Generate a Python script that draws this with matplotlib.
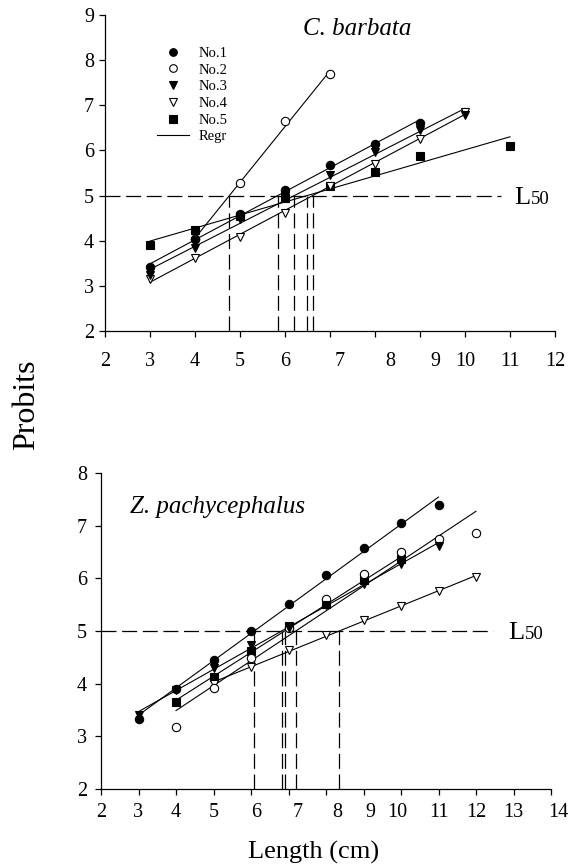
import numpy as np
import matplotlib
matplotlib.use('Agg')
import matplotlib.pyplot as plt
from matplotlib.lines import Line2D
from matplotlib.transforms import ScaledTranslation

plt.rcParams['font.family'] = 'Liberation Serif'
plt.rcParams['axes.linewidth'] = 0.9

series = ['No.1', 'No.2', 'No.3', 'No.4', 'No.5']

# C. barbata: length classes (cm) and probits
cb_len = [[3, 4, 5, 6, 7, 8, 9],
          [4, 5, 6, 7],
          [3, 4, 5, 6, 7, 8, 9, 10],
          [3, 4, 5, 6, 7, 8, 9, 10],
          [3, 4, 5, 6, 7, 8, 9, 11]]
cb_prob = [[3.41, 4.03, 4.60, 5.13, 5.67, 6.15, 6.61],
           [4.03, 5.27, 6.65, 7.69],
           [3.24, 3.84, 4.48, 4.98, 5.45, 5.97, 6.45, 6.78],
           [3.15, 3.61, 4.09, 4.62, 5.22, 5.71, 6.26, 6.85],
           [3.90, 4.23, 4.55, 4.94, 5.21, 5.52, 5.87, 6.09]]

# Z. pachycephalus
zp_len = [[3, 4, 5, 6, 7, 8, 9, 10, 11],
          [4, 5, 6, 7, 8, 9, 10, 11, 12],
          [3, 4, 5, 6, 7, 8, 9, 10, 11],
          [5, 6, 7, 8, 9, 10, 11, 12],
          [4, 5, 6, 7, 8, 9, 10]]
zp_prob = [[3.32, 3.89, 4.45, 5.00, 5.52, 6.06, 6.57, 7.05, 7.39],
           [3.17, 3.91, 4.48, 5.06, 5.61, 6.08, 6.50, 6.75, 6.87],
           [3.40, 3.88, 4.29, 4.73, 5.06, 5.50, 5.90, 6.28, 6.62],
           [3.99, 4.32, 4.64, 4.92, 5.21, 5.47, 5.76, 6.03],
           [3.65, 4.13, 4.62, 5.09, 5.51, 5.97, 6.36]]

markers = ['o', 'o', 'v', 'v', 's']
faces = ['k', 'w', 'k', 'w', 'k']
zorders = [6, 4, 5, 3, 2]
dash = (0, (12, 4.5))

fig = plt.figure(figsize=(5.71, 8.66), dpi=100)
ax1 = fig.add_axes([105/571, 1 - 331/866, 450/571, 316/866])
ax2 = fig.add_axes([101/571, 1 - 789/866, 450/571, 316/866])


def panel(ax, lens, probs, l50_end):
    for i in range(5):
        x = np.array(lens[i], float)
        y = np.array(probs[i], float)
        b, a = np.polyfit(x, y, 1)
        xs = np.array([x.min(), x.max()])
        ax.plot(xs, a + b*xs, color='k', lw=0.8, zorder=1)
        ax.plot(x, y, ls='none', marker=markers[i], ms=6, mfc=faces[i],
                mec='k', mew=0.8, zorder=zorders[i])
        l50 = (5 - a)/b
        ax.plot([l50, l50], [2, 5], color='k', lw=0.9, ls=dash, zorder=1)
    ax.plot([2, l50_end], [5, 5], color='k', lw=0.9, ls=dash, zorder=1)
    ax.spines['top'].set_visible(False)
    ax.spines['right'].set_visible(False)
    ax.tick_params(direction='out', length=4, width=0.9, labelsize=14.5)


panel(ax1, cb_len, cb_prob, 10.8)
panel(ax2, zp_len, zp_prob, 12.45)

ax1.set_xlim(2, 12)
ax1.set_ylim(2, 9)
ax1.set_xticks(range(2, 13))
ax1.set_yticks(range(2, 10))
ax1.tick_params(axis='x', pad=11)
ax1.tick_params(axis='y', pad=4)

ax2.set_xlim(2, 14)
ax2.set_ylim(2, 8)
ax2.set_xticks(range(2, 15))
ax2.set_yticks(range(2, 9))
ax2.tick_params(axis='x', pad=6)
ax2.tick_params(axis='y', pad=6)

# the scanned tick labels sit slightly off their ticks
shifts1 = {7: 7, 8: 11, 9: 11}
shifts2 = {6: 4, 7: 6.5, 8: 8, 9: 5, 10: -3, 14: 5}
for ax, shifts in ((ax1, shifts1), (ax2, shifts2)):
    for lab, t in zip(ax.get_xticklabels(), ax.get_xticks()):
        dx = shifts.get(int(t), 0)
        if dx:
            lab.set_transform(lab.get_transform() +
                              ScaledTranslation(dx/72, 0, fig.dpi_scale_trans))

ax1.text(6.4, 8.68, 'C. barbata', fontsize=18, style='italic', va='center')
ax2.text(2.77, 7.35, 'Z. pachycephalus', fontsize=18, style='italic', va='center')

for ax, x0 in ((ax1, 11.09), (ax2, 12.85)):
    ax.annotate('L', (x0, 5), xytext=(0, -6), textcoords='offset points',
                fontsize=19, va='baseline', annotation_clip=False)
    ax.annotate('50', (x0, 5), xytext=(12, -6), textcoords='offset points',
                fontsize=13.5, va='baseline', annotation_clip=False)

handles = [Line2D([], [], ls='none', marker=markers[i], ms=5.5, mfc=faces[i],
                  mec='k', mew=0.8) for i in range(5)]
handles.append(Line2D([], [], color='k', lw=0.8))
ax1.legend(handles, series + ['Regr'], loc='upper left',
           bbox_to_anchor=(0.115, 0.90), frameon=False, fontsize=10.5,
           handlelength=2.2, handletextpad=0.7, labelspacing=0.24,
           borderpad=0, borderaxespad=0)

fig.text(27/571, 1 - 405/866, 'Probits', rotation=90, fontsize=23,
         ha='center', va='center')
fig.text(314/571, 1 - 852/866, 'Length (cm)', fontsize=19,
         ha='center', va='center')

fig.savefig('out.png', dpi=100)
